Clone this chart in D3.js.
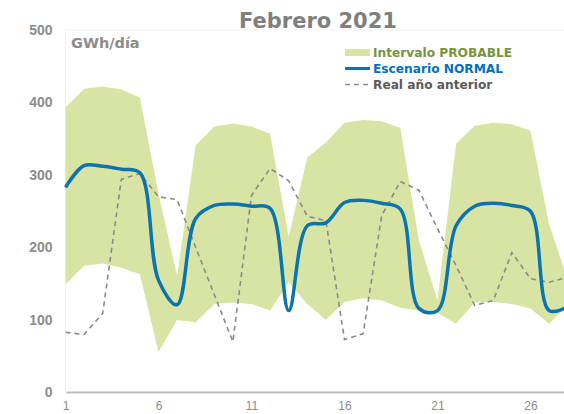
<!DOCTYPE html>
<html>
<head>
<meta charset="utf-8">
<script src="https://cdn.jsdelivr.net/npm/d3@7"></script>
<style>
  html, body { margin: 0; padding: 0; background: #fff; }
  svg { display: block; font-family: "DejaVu Sans", Verdana, sans-serif; }
</style>
</head>
<body>
<div id="chart"></div>
<script>
// dias de febrero
const days = d3.range(1, 29)
// intervalo probable (GWh/dia)
const upper = [393, 419, 422, 418, 407, 274, 161, 341, 367, 371, 367, 357, 215, 324,
               345, 372, 376, 374, 365, 210, 127, 343, 368, 372, 370, 361, 232, 156]
const lower = [149, 175, 178, 172, 163, 56, 100, 97, 122, 124, 122, 113, 152, 122,
               100, 125, 130, 127, 117, 113, 110, 95, 124, 125, 122, 116, 95, 120]
// escenario normal
const normal = [283, 313, 312, 308, 303, 155, 121, 240, 258, 260, 257, 254, 113, 230,
                234, 262, 265, 261, 253, 116, 113, 230, 257, 261, 258, 250, 113, 118]
// real año anterior
const prev = [83, 80, 109, 294, 302, 270, 266, 200, 135, 70, 272, 309, 292, 243,
              237, 73, 81, 244, 291, 279, 226, 175, 120, 127, 193, 157, 152, 159]

const yTicks = [0, 100, 200, 300, 400, 500]
const xTicks = [1, 6, 11, 16, 21, 26]

const WIDTH = 564
const HEIGHT = 414

const svg = d3.select("#chart").append("svg")
    .attr("width", WIDTH)
    .attr("height", HEIGHT)

const x = d3.scaleLinear().domain([1, 28]).range([65.5, 567.7])
const y = d3.scaleLinear().domain([0, 500]).range([392.5, 30])

// plot area border (very faint)
svg.append("rect")
    .attr("x", x(1)).attr("y", y(500))
    .attr("width", x(28) - x(1)).attr("height", y(0) - y(500))
    .attr("fill", "none")
    .attr("stroke", "#f2f2f2")

// band
const area = d3.area()
    .x((d, i) => x(days[i]))
    .y0((d, i) => y(lower[i]))
    .y1((d, i) => y(upper[i]))

svg.append("path")
    .datum(days)
    .attr("d", area)
    .attr("fill", "#d8e4a4")

// previous year, dashed
const line = d3.line()
    .x((d, i) => x(days[i]))
    .y(d => y(d))

svg.append("path")
    .datum(prev)
    .attr("d", line)
    .attr("fill", "none")
    .attr("stroke", "#8a8a8a")
    .attr("stroke-width", 1.6)
    .attr("stroke-dasharray", "5,4")

// normal scenario, smoothed
const smooth = d3.line()
    .x((d, i) => x(days[i]))
    .y(d => y(d))
    .curve(d3.curveCatmullRom.alpha(0.5))

svg.append("path")
    .datum(normal)
    .attr("d", smooth)
    .attr("fill", "none")
    .attr("stroke", "#0c74ad")
    .attr("stroke-width", 3.5)

// x axis
const xAxis = svg.append("g")
    .attr("transform", `translate(0,${y(0)})`)
    .call(d3.axisBottom(x).tickValues(xTicks).tickSize(0).tickPadding(9))
xAxis.select(".domain")
    .attr("stroke", "#bdbdbd")
    .attr("stroke-width", 2)
    .attr("d", `M${x(1) + 1},0H${x(28)}`)
xAxis.selectAll("text")
    .attr("fill", "#8c8c8c")
    .style("font-size", "12px")

// y axis
const yAxis = svg.append("g")
    .attr("transform", `translate(${x(1)},0)`)
    .call(d3.axisLeft(y).tickValues(yTicks).tickSize(0).tickPadding(13))
yAxis.select(".domain").remove()
yAxis.selectAll("text")
    .attr("fill", "#8c8c8c")
    .style("font-size", "14px")
    .style("font-weight", "bold")

// title + unit
svg.append("text")
    .attr("x", 318).attr("y", 27.5)
    .attr("text-anchor", "middle")
    .attr("fill", "#7f7f7f")
    .style("font-size", "21px")
    .style("font-weight", "bold")
    .text("Febrero 2021")

svg.append("text")
    .attr("x", 71).attr("y", 48)
    .attr("fill", "#8c8c8c")
    .style("font-size", "14.5px")
    .style("font-weight", "bold")
    .text("GWh/día")

// legend
const legend = svg.append("g").attr("transform", "translate(345,0)")
legend.append("rect")
    .attr("x", 0).attr("y", 49).attr("width", 25).attr("height", 7)
    .attr("fill", "#d8e4a4")
legend.append("line")
    .attr("x1", 0).attr("x2", 25).attr("y1", 68.5).attr("y2", 68.5)
    .attr("stroke", "#0c74ad").attr("stroke-width", 3)
legend.append("line")
    .attr("x1", 0).attr("x2", 25).attr("y1", 84.5).attr("y2", 84.5)
    .attr("stroke", "#8a8a8a").attr("stroke-width", 1.5)
    .attr("stroke-dasharray", "5,4")

const legendItems = [
  {label: "Intervalo PROBABLE", color: "#77933c", yy: 57},
  {label: "Escenario NORMAL", color: "#0070c0", yy: 73},
  {label: "Real año anterior", color: "#595959", yy: 88.5}
]
legend.selectAll("text.leg")
    .data(legendItems)
    .enter().append("text")
    .attr("class", "leg")
    .attr("x", 28)
    .attr("y", d => d.yy)
    .attr("fill", d => d.color)
    .style("font-size", "12.2px")
    .style("font-weight", "bold")
    .text(d => d.label)
</script>
</body>
</html>
